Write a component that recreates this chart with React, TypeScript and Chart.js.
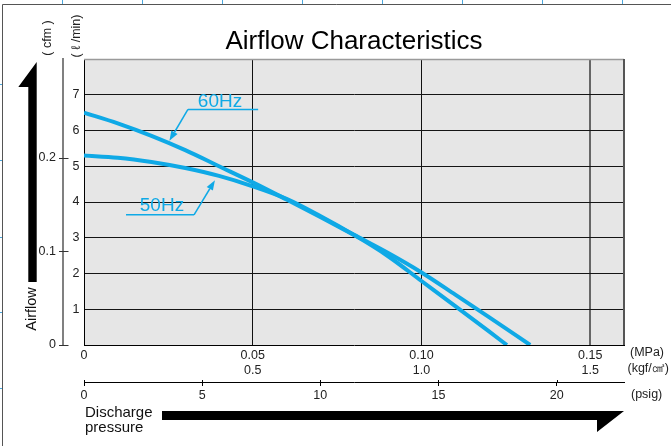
import { useEffect, useRef } from 'react';
import { Chart, registerables } from 'chart.js';

Chart.register(...registerables);

// ---- data ----
const pressure60 = [0, 0.01, 0.02, 0.03, 0.04, 0.05, 0.06, 0.07, 0.08, 0.09, 0.1, 0.11, 0.12, 0.1322];
const flow60 = [6.5, 6.2, 5.85, 5.45, 5.0, 4.55, 4.07, 3.58, 3.08, 2.58, 2.03, 1.41, 0.78, 0];
const pressure50 = [0, 0.01, 0.02, 0.03, 0.04, 0.05, 0.06, 0.07, 0.08, 0.09, 0.1, 0.11, 0.12, 0.1253];
const flow50 = [5.3, 5.24, 5.12, 4.95, 4.73, 4.44, 4.09, 3.61, 3.08, 2.49, 1.79, 1.09, 0.38, 0];

const mpaTicks = [0, 0.05, 0.1, 0.15];
const mpaLabels = ['0', '0.05', '0.10', '0.15'];
const kgfLabels = ['', '0.5', '1.0', '1.5'];
const psigTicks = [0, 5, 10, 15, 20];
const psigLabels = ['0', '5', '10', '15', '20'];
const flowTicks = [1, 2, 3, 4, 5, 6, 7];
const flowLabels = ['1', '2', '3', '4', '5', '6', '7'];
const cfmTicks = [0, 0.1, 0.2];
const cfmLabels = ['0', '0.1', '0.2'];

const X_MAX = 0.16;
const Y_MAX = 8;
const CFM_MAX = 0.3056;
const PSIG_MAX = 22.85;

// annotation anchors in data units (MPa, l/min)
const label60 = { text: '60Hz', x: 0.0403, y: 6.67, lineY: 6.59, lineX0: 0.0308, lineX1: 0.0516, tipX: 0.0253, tipY: 5.71 };
const label50 = { text: '50Hz', x: 0.0231, y: 3.75, lineY: 3.64, lineX0: 0.01245, lineX1: 0.0326, tipX: 0.0388, tipY: 4.61 };

const FONT = '"Liberation Sans", Arial, Helvetica, sans-serif';
const CYAN = '#0fa9e6';

function arrow(ctx: CanvasRenderingContext2D, x1: number, y1: number, x2: number, y2: number) {
  const ang = Math.atan2(y2 - y1, x2 - x1);
  const len = 10;
  const hw = 3.6;
  const bx = x2 - len * Math.cos(ang);
  const by = y2 - len * Math.sin(ang);
  ctx.beginPath();
  ctx.moveTo(x1, y1);
  ctx.lineTo(bx, by);
  ctx.stroke();
  ctx.beginPath();
  ctx.moveTo(x2, y2);
  ctx.lineTo(bx + hw * Math.sin(ang), by - hw * Math.cos(ang));
  ctx.lineTo(bx - hw * Math.sin(ang), by + hw * Math.cos(ang));
  ctx.closePath();
  ctx.fill();
}

function seg(ctx: CanvasRenderingContext2D, x1: number, y1: number, x2: number, y2: number) {
  ctx.beginPath();
  ctx.moveTo(x1, y1);
  ctx.lineTo(x2, y2);
  ctx.stroke();
}

const decorPlugin = {
  id: 'decor',
  beforeDraw(chart: any) {
    const { ctx, chartArea: a } = chart;
    ctx.save();
    ctx.fillStyle = '#e6e6e6';
    ctx.fillRect(a.left, a.top, a.right - a.left, a.bottom - a.top);
    ctx.restore();
  },
  beforeDatasetsDraw(chart: any) {
    const { ctx, chartArea: a } = chart;
    ctx.save();
    ctx.strokeStyle = '#9a9a9a';
    ctx.lineWidth = 1.5;
    seg(ctx, a.left, a.top + 0.5, a.right, a.top + 0.5);
    ctx.strokeStyle = '#555';
    ctx.lineWidth = 2;
    seg(ctx, a.right, a.top, a.right, a.bottom);
    ctx.restore();
  },
  afterDatasetsDraw(chart: any) {
    const { ctx } = chart;
    const sx = chart.scales.x;
    const sy = chart.scales.y;
    const px = (v: number) => sx.getPixelForValue(v);
    const py = (v: number) => sy.getPixelForValue(v);
    ctx.save();
    ctx.strokeStyle = CYAN;
    ctx.fillStyle = CYAN;
    ctx.lineWidth = 1.5;
    // 60Hz
    seg(ctx, px(label60.lineX0), py(label60.lineY), px(label60.lineX1), py(label60.lineY));
    arrow(ctx, px(label60.lineX0), py(label60.lineY), px(label60.tipX), py(label60.tipY));
    // 50Hz
    seg(ctx, px(label50.lineX0), py(label50.lineY), px(label50.lineX1), py(label50.lineY));
    arrow(ctx, px(label50.lineX1), py(label50.lineY), px(label50.tipX), py(label50.tipY));
    ctx.font = `19px ${FONT}`;
    ctx.textAlign = 'center';
    ctx.textBaseline = 'alphabetic';
    ctx.fillText(label60.text, px(label60.x), py(label60.y));
    ctx.fillText(label50.text, px(label50.x), py(label50.y));
    ctx.restore();
  },
  afterDraw(chart: any) {
    const { ctx, chartArea: a } = chart;
    const cfm = chart.scales.cfm;
    const ps = chart.scales.psig;
    ctx.save();
    // page frame
    ctx.strokeStyle = '#555';
    ctx.lineWidth = 1;
    seg(ctx, 2.5, 4.5, 671, 4.5);
    seg(ctx, 2.5, 4.5, 2.5, 446);
    ctx.strokeStyle = '#4aa6dc';
    [62, 142, 222, 302, 382, 462, 542, 622].forEach((x) => seg(ctx, x + 0.5, 0, x + 0.5, 4));
    [84, 160, 237, 312, 388].forEach((y) => seg(ctx, 0, y + 0.5, 2, y + 0.5));

    // cfm tick marks (crossing the axis line)
    ctx.strokeStyle = '#333';
    ctx.lineWidth = 1;
    cfm.ticks.forEach((t: any) => {
      const y = Math.round(cfm.getPixelForValue(t.value)) + 0.5;
      seg(ctx, cfm.right - 4, y, cfm.right + 5.5, y);
    });
    // psig ticks upper stub
    ctx.strokeStyle = '#000';
    ps.ticks.forEach((t: any) => {
      const x = Math.round(ps.getPixelForValue(t.value)) + 0.5;
      seg(ctx, x, ps.top - 2, x, ps.top);
    });

    // unit labels
    ctx.fillStyle = '#222';
    ctx.font = `12.5px ${FONT}`;
    ctx.textAlign = 'left';
    ctx.textBaseline = 'middle';
    ctx.fillText('(MPa)', a.right + 6, 353);
    ctx.fillText('(kgf/㎠)', a.right + 3.5, 369);
    ctx.fillText('(psig)', a.right + 7, 395);

    // rotated axis units
    const rot = (text: string, x: number, y: number, font: string) => {
      ctx.save();
      ctx.translate(x, y);
      ctx.rotate(-Math.PI / 2);
      ctx.font = font;
      ctx.textAlign = 'center';
      ctx.textBaseline = 'middle';
      ctx.fillText(text, 0, 0);
      ctx.restore();
    };
    rot('( cfm )', 48, 38, `12.5px ${FONT}`);
    rot('( ℓ /min)', 77, 36, `12.5px ${FONT}`);

    // Airflow arrow (vertical)
    ctx.fillStyle = '#000';
    ctx.beginPath();
    ctx.moveTo(36.7, 62);
    ctx.lineTo(36.7, 282);
    ctx.lineTo(28.3, 282);
    ctx.lineTo(28.3, 87);
    ctx.lineTo(18.3, 87);
    ctx.closePath();
    ctx.fill();
    ctx.fillStyle = '#111';
    rot('Airflow', 31.5, 309, `14.5px ${FONT}`);

    // Discharge pressure arrow (horizontal)
    ctx.fillStyle = '#000';
    ctx.beginPath();
    ctx.moveTo(162, 411);
    ctx.lineTo(a.right, 411);
    ctx.lineTo(a.right - 27, 432);
    ctx.lineTo(a.right - 27, 420);
    ctx.lineTo(162, 420);
    ctx.closePath();
    ctx.fill();
    ctx.fillStyle = '#111';
    ctx.font = `15px ${FONT}`;
    ctx.textAlign = 'left';
    ctx.textBaseline = 'middle';
    ctx.fillText('Discharge', 85, 413);
    ctx.fillText('pressure', 85, 428);
    ctx.restore();
  },
};

export default function App() {
  const ref = useRef<HTMLCanvasElement>(null);
  useEffect(() => {
    const canvas = ref.current;
    if (!canvas) return;
    const tickFont = { family: FONT, size: 12.5 };
    const chart = new Chart(canvas, {
      type: 'line',
      data: {
        datasets: [
          {
            label: '60Hz',
            data: pressure60.map((x, i) => ({ x, y: flow60[i] })),
            borderColor: CYAN,
            borderWidth: 4,
            pointRadius: 0,
            cubicInterpolationMode: 'monotone',
            xAxisID: 'x',
            yAxisID: 'y',
          },
          {
            label: '50Hz',
            data: pressure50.map((x, i) => ({ x, y: flow50[i] })),
            borderColor: CYAN,
            borderWidth: 4,
            pointRadius: 0,
            cubicInterpolationMode: 'monotone',
            xAxisID: 'x',
            yAxisID: 'y',
          },
        ],
      },
      options: {
        responsive: false,
        maintainAspectRatio: false,
        animation: false,
        layout: { padding: { left: 0, right: 47, top: 0, bottom: 39 } },
        plugins: {
          legend: { display: false },
          tooltip: { enabled: false },
          title: {
            display: true,
            text: 'Airflow Characteristics',
            fullSize: false,
            color: '#000',
            font: { family: FONT, size: 26, weight: 'normal' },
            padding: { top: 26, bottom: 1.8 },
          },
        },
        scales: {
          x: {
            type: 'linear',
            position: 'bottom',
            weight: 0,
            min: 0,
            max: X_MAX,
            afterBuildTicks: (s: any) => {
              s.ticks = mpaTicks.map((v) => ({ value: v }));
            },
            afterFit: (s: any) => {
              s.height = 37;
            },
            grid: {
              drawTicks: false,
              color: (c: any) => (c.index === 0 ? 'rgba(0,0,0,0)' : c.index === 3 ? '#666' : '#111'),
              lineWidth: (c: any) => (c.index === 3 ? 2 : 1),
            },
            border: { color: '#000', width: 1 },
            ticks: {
              padding: 3,
              maxRotation: 0,
              autoSkip: false,
              color: '#222',
              font: tickFont,
              callback: (_v: any, i: number) => (i === 0 ? mpaLabels[i] : [mpaLabels[i], kgfLabels[i]]),
            },
          },
          psig: {
            type: 'linear',
            position: 'bottom',
            weight: 1,
            min: 0,
            max: PSIG_MAX,
            afterBuildTicks: (s: any) => {
              s.ticks = psigTicks.map((v) => ({ value: v }));
            },
            afterFit: (s: any) => {
              s.height = 25;
            },
            grid: { drawOnChartArea: false, drawTicks: true, tickLength: 4, color: '#000', lineWidth: 1 },
            border: { color: '#000', width: 1 },
            ticks: {
              padding: 2,
              maxRotation: 0,
              autoSkip: false,
              color: '#222',
              font: tickFont,
              callback: (_v: any, i: number) => psigLabels[i],
            },
          },
          y: {
            type: 'linear',
            position: 'left',
            weight: 0,
            min: 0,
            max: Y_MAX,
            afterBuildTicks: (s: any) => {
              s.ticks = flowTicks.map((v) => ({ value: v }));
            },
            afterFit: (s: any) => {
              s.width = 21;
            },
            grid: { drawTicks: false, color: '#151515', lineWidth: 1 },
            border: { color: '#000', width: 1 },
            ticks: {
              padding: 4.5,
              autoSkip: false,
              color: '#222',
              font: tickFont,
              callback: (_v: any, i: number) => flowLabels[i],
            },
          },
          cfm: {
            type: 'linear',
            position: 'left',
            weight: 1,
            min: 0,
            max: CFM_MAX,
            afterBuildTicks: (s: any) => {
              s.ticks = cfmTicks.map((v) => ({ value: v }));
            },
            afterFit: (s: any) => {
              s.width = 63;
            },
            grid: { drawOnChartArea: false, drawTicks: false },
            border: { color: '#808080', width: 2 },
            ticks: {
              padding: 7,
              autoSkip: false,
              color: '#222',
              font: tickFont,
              callback: (_v: any, i: number) => cfmLabels[i],
            },
          },
        },
      } as any,
      plugins: [decorPlugin],
    });
    return () => chart.destroy();
  }, []);
  return (
    <div style={{ position: 'fixed', left: 0, top: 0, width: 671, height: 446, background: '#fff' }}>
      <canvas ref={ref} width={671} height={446} style={{ width: 671, height: 446, display: 'block' }} />
    </div>
  );
}
